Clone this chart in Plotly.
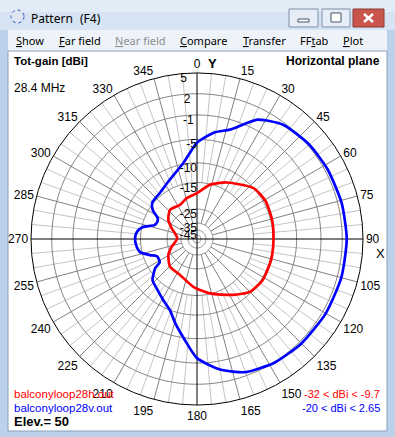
import numpy as np
import plotly.graph_objects as go

# ---------------- data ----------------
ring_db = [5, 2, -1, -5, -10, -15, -25, -35, -45]
ring_frac = [1.0, 0.875, 0.747, 0.60, 0.458, 0.34, 0.18, 0.096, 0.054]

angle_ticks = list(range(0, 360, 15))

red_theta = [0, 13.5, 27.8, 48, 60.8, 76, 90.8, 105.7, 121.7, 134.8, 147, 166.5, 184.4,
             205.3, 224.3, 240.9, 253.1, 272, 293, 303.5, 317, 333.4, 345.8]
red_db = [-19.0, -15.2, -13.1, -10.0, -9.5, -9.7, -9.9, -9.8, -9.7, -10.3, -12.4, -15.2, -18.2,
          -21.3, -21.7, -23.9, -27.5, -32.3, -26.7, -23.3, -21.3, -21.9, -20.4]

blue_theta = [0, 9.5, 16.8, 27, 37, 50, 62, 76, 90, 105, 120, 135, 148, 160, 170, 180,
              187, 194, 201, 209, 219, 227, 235, 238, 243, 247, 251, 257, 264, 271,
              277, 282.5, 288, 293.5, 298, 303, 309, 321, 335, 350]
blue_db = [-5.7, -3.6, -2.6, 0.4, 1.7, 2.2, 2.4, 2.55, 2.65, 2.6, 2.5, 2.35, 2.1, 1.5, 0.2, -1.8,
           -4.7, -7.5, -10.0, -11.6, -13.1, -13.9, -17.0, -19.7, -20.0, -19.8, -17.6, -14.5, -13.8, -13.6,
           -14.0, -15.4, -19.4, -20.0, -19.5, -16.4, -14.7, -14.3, -12.8, -9.7]

red_file = "balconyloop28h.out"
blue_file = "balconyloop28v.out"
red_range = "-32 < dBi < -9.7"
blue_range = "-20 < dBi < 2.65"

# ---------------- scale ----------------
def rs(db):
    db = np.asarray(db, dtype=float)
    return np.interp(db, ring_db[::-1], ring_frac[::-1], left=0.0)

W, H = 395, 437
CX, CY, R = 197, 239, 166
FONT = "Liberation Sans, Arial, sans-serif"
UI = "Noto Sans, DejaVu Sans, sans-serif"

fig = go.Figure()

def closed(t, d):
    return list(t) + [t[0]], list(rs(d)) + [float(rs(d[0]))]

# grid: light spokes every 5 deg
lt, lr = [], []
for a in range(0, 360, 5):
    if a % 15:
        lt += [a, a, None]
        lr += [float(rs(-15)), 1.0, None]
fig.add_trace(go.Scatterpolar(theta=lt, r=lr, mode="lines",
                              line=dict(color="#c4c4c4", width=1), hoverinfo="skip"))
# dark spokes every 15 deg
dt, dr = [], []
for a in angle_ticks:
    if a % 90:
        dt += [a, a, None]
        dr += [float(rs(-35)), 1.0, None]
fig.add_trace(go.Scatterpolar(theta=dt, r=dr, mode="lines",
                              line=dict(color="#808080", width=1), hoverinfo="skip"))
# rings
circ = np.linspace(0, 360, 361)
for db in ring_db[1:]:
    fig.add_trace(go.Scatterpolar(theta=circ, r=np.full(circ.size, float(rs(db))), mode="lines",
                                  line=dict(color="#808080", width=1), hoverinfo="skip"))
fig.add_trace(go.Scatterpolar(theta=circ, r=np.full(circ.size, 0.024), mode="lines",
                              line=dict(color="#808080", width=1), hoverinfo="skip"))
# black axes
fig.add_trace(go.Scatterpolar(theta=[0, 0, None, 90, 90, None, 180, 180, None, 270, 270],
                              r=[0, 1, None, 0, 1, None, 0, 1, None, 0, 1], mode="lines",
                              line=dict(color="black", width=1), hoverinfo="skip"))

# data
t, r = closed(red_theta, red_db)
fig.add_trace(go.Scatterpolar(theta=t, r=r, mode="lines", name=red_file,
                              line=dict(color="#ff0000", width=2.7, shape="spline", smoothing=0.6)))
t, r = closed(blue_theta, blue_db)
fig.add_trace(go.Scatterpolar(theta=t, r=r, mode="lines", name=blue_file,
                              line=dict(color="#0000ff", width=2.7, shape="spline", smoothing=0.6)))

# radial labels
pad = {5: "\u00a0\u00a0\u00a0", 2: "\u00a0\u00a0", -1: "\u00a0"}
fig.add_trace(go.Scatterpolar(theta=[0] * len(ring_db), r=list(rs(ring_db)), mode="text",
                              text=[str(v) + pad.get(v, "") for v in ring_db], textposition="bottom left",
                              textfont=dict(family=FONT, size=12, color="black"),
                              cliponaxis=False, hoverinfo="skip"))

fig.update_layout(
    width=W, height=H, margin=dict(l=0, r=0, t=0, b=0),
    paper_bgcolor="#bcd2ea", plot_bgcolor="rgba(0,0,0,0)", showlegend=False,
    xaxis=dict(range=[0, W], visible=False, domain=[0, 1], fixedrange=True),
    yaxis=dict(range=[H, 0], visible=False, domain=[0, 1], fixedrange=True),
    polar=dict(
        domain=dict(x=[(CX - R) / W, (CX + R) / W], y=[(H - CY - R) / H, (H - CY + R) / H]),
        bgcolor="white",
        radialaxis=dict(range=[0, 1], visible=False),
        angularaxis=dict(rotation=90, direction="clockwise", tickmode="array",
                         tickvals=angle_ticks, ticktext=[str(a) for a in angle_ticks],
                         showgrid=False, showline=True, linecolor="black", linewidth=1,
                         ticks="", tickfont=dict(family=FONT, size=12, color="black")),
    ),
)

shapes = [
    dict(type="rect", x0=0, y0=0, x1=W, y1=30, fillcolor="#d5e3f2", line_width=0, layer="below"),
    dict(type="rect", x0=0, y0=0, x1=W, y1=12, fillcolor="#e2ecf7", line_width=0, layer="below"),
    dict(type="rect", x0=8, y0=30, x1=387, y1=51, fillcolor="#eef3f9", line_width=0, layer="below"),
    dict(type="rect", x0=8, y0=51, x1=387, y1=431, fillcolor="white",
         line=dict(color="#8aa0b8", width=1), layer="below"),
    dict(type="rect", x0=289, y0=9, x1=318, y1=27, fillcolor="#e6edf6",
         line=dict(color="#7f8fa6", width=1), layer="below"),
    dict(type="rect", x0=322, y0=9, x1=350, y1=27, fillcolor="#e6edf6",
         line=dict(color="#7f8fa6", width=1), layer="below"),
    dict(type="rect", x0=353, y0=9, x1=384, y1=27, fillcolor="#c9554d",
         line=dict(color="#8a3a35", width=1), layer="below"),
    dict(type="rect", x0=298, y0=19, x1=309, y1=22, fillcolor="white",
         line=dict(color="#44556a", width=1), layer="below"),
    dict(type="rect", x0=331, y0=13, x1=341, y1=22, fillcolor="white",
         line=dict(color="#44556a", width=1), layer="below"),
    dict(type="line", x0=364, y0=14, x1=373, y1=22, line=dict(color="white", width=2.5), layer="below"),
    dict(type="line", x0=373, y0=14, x1=364, y1=22, line=dict(color="white", width=2.5), layer="below"),
    dict(type="circle", x0=11, y0=10, x1=24, y1=23, fillcolor="#dde6f0",
         line=dict(color="#3050c0", width=1, dash="dot"), layer="below"),
]
fig.update_layout(shapes=shapes)

ann = []
def A(x, y, text, size=12, color="black", xanchor="left", family=FONT, bold=False):
    if bold:
        text = "<b>" + text + "</b>"
    ann.append(dict(x=x, y=y, xref="x", yref="y", text=text, showarrow=False, xanchor=xanchor,
                    yanchor="middle", font=dict(family=family, size=size, color=color)))

A(29, 18, "Pattern", size=12, family=UI)
A(78, 18, "(F4)", size=12, family=UI)
menus = [(14, "<u>S</u>how"), (57, "<u>F</u>ar field"), (113, "<span style='color:#8d8d8d'><u>N</u>ear field</span>"),
         (178, "<u>C</u>ompare"), (241, "<u>T</u>ransfer"), (298, "FF<u>t</u>ab"), (341, "<u>P</u>lot")]
for x, t_ in menus:
    A(x, 40, t_, size=11, family=UI)

A(12, 61, "Tot-gain [dBi]", bold=True, size=11.5)
A(12, 88, "28.4 MHz")
A(382, 61, "Horizontal plane", bold=True, xanchor="right")
A(206, 63, "Y", bold=True, size=13)
A(374, 253, "X", size=13)
A(12, 394, red_file, color="#ff0000", size=11.5)
A(12, 408, blue_file, color="#0000ff", size=11.5)
A(12, 421, "Elev.= 50", bold=True, size=13)
A(382, 394, red_range, color="#ff0000", xanchor="right", size=11)
A(382, 408, blue_range, color="#0000ff", xanchor="right", size=11)
fig.update_layout(annotations=ann)

fig.write_html("out.html", config={"displayModeBar": False},
               post_script="document.body.style.margin='0px';document.body.style.overflow='hidden';")
